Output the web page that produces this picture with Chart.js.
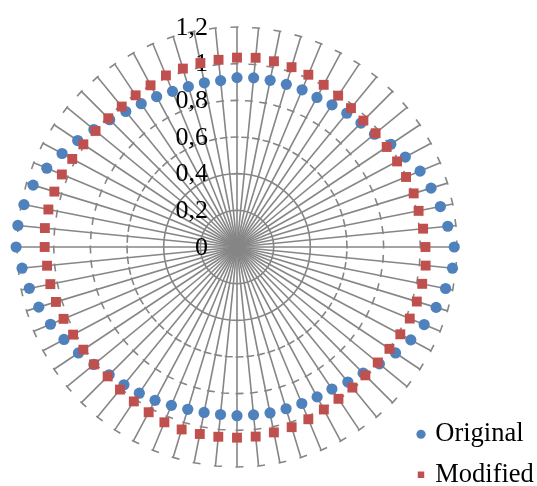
<!DOCTYPE html>
<html>
<head>
<meta charset="utf-8">
<script src="https://cdn.jsdelivr.net/npm/chart.js@4.4.0/dist/chart.umd.min.js"></script>
<style>
  html, body { margin: 0; padding: 0; background: #ffffff; }
  canvas { display: block; }
</style>
</head>
<body>
<canvas id="chart" width="537" height="486"></canvas>
<script>
// 64 directions around the circle, starting at the top and going clockwise
const CATEGORIES = [
  '1','2','3','4','5','6','7','8','9','10','11','12','13','14','15','16',
  '17','18','19','20','21','22','23','24','25','26','27','28','29','30','31','32',
  '33','34','35','36','37','38','39','40','41','42','43','44','45','46','47','48',
  '49','50','51','52','53','54','55','56','57','58','59','60','61','62','63','64'
];

const ORIGINAL = [
  0.924, 0.927, 0.927, 0.927, 0.928, 0.925, 0.933, 0.944,
  0.956, 0.970, 1.009, 1.041, 1.081, 1.106, 1.131, 1.155,
  1.185, 1.181, 1.160, 1.135, 1.105, 1.075, 1.040, 1.005,
  0.973, 0.953, 0.932, 0.927, 0.924, 0.922, 0.923, 0.920,
  0.920, 0.918, 0.920, 0.925, 0.935, 0.948, 0.959, 0.972,
  0.986, 1.010, 1.040, 1.070, 1.101, 1.130, 1.155, 1.178,
  1.205, 1.201, 1.185, 1.162, 1.123, 1.082, 1.045, 1.010,
  0.982, 0.956, 0.940, 0.930, 0.919, 0.914, 0.913, 0.912
];

const MODIFIED = [
  1.033, 1.037, 1.033, 1.025, 1.017, 1.003, 0.993, 0.980,
  0.975, 0.978, 0.982, 0.990, 0.998, 1.007, 1.010, 1.020,
  1.028, 1.034, 1.030, 1.025, 1.020, 1.010, 1.000, 0.993,
  0.990, 0.992, 0.996, 1.005, 1.017, 1.027, 1.031, 1.039,
  1.040, 1.040, 1.040, 1.040, 1.035, 1.022, 1.013, 1.006,
  0.998, 1.009, 1.008, 1.014, 1.024, 1.032, 1.038, 1.041,
  1.049, 1.053, 1.049, 1.041, 1.034, 1.019, 1.008, 0.998,
  0.993, 0.991, 0.995, 1.000, 1.013, 1.017, 1.023, 1.026
];

const TICK_LABELS = ['0', '0,2', '0,4', '0,6', '0,8', '1', '1,2'];

const GRID_GREY = '#868686';
const BLUE = '#4F81BD';
const RED = '#C0504D';
const SERIF = '"Liberation Serif", "Times New Roman", serif';

// short dash on each ring, sitting just before every spoke (counter-clockwise side)
const DASH_BEFORE = 6.5;
const DASH_AFTER = 1.5;

function ringEdge(c) {
  const r = c.scale.getDistanceFromCenterForValue(c.tick.value);
  return 2 * r * Math.sin(Math.PI / CATEGORIES.length);
}
function ringDash(c) {
  const edge = ringEdge(c);
  const d = DASH_BEFORE + DASH_AFTER;
  return edge > d + 0.5 ? [d, edge - d] : [];
}
function ringDashOffset(c) {
  return ringEdge(c) > DASH_BEFORE + DASH_AFTER + 0.5 ? DASH_BEFORE : 0;
}

// value labels to the left of the vertical spoke, drawn under the markers
const axisLabels = {
  id: 'axisLabels',
  beforeDatasetsDraw(chart) {
    const s = chart.scales.r;
    const ctx = chart.ctx;
    ctx.save();
    ctx.font = '26px ' + SERIF;
    ctx.fillStyle = '#000000';
    ctx.textAlign = 'right';
    ctx.textBaseline = 'middle';
    s.ticks.forEach((t) => {
      const y = s.yCenter - s.getDistanceFromCenterForValue(t.value);
      ctx.fillText(t.label, s.xCenter - 29, y + 1);
    });
    ctx.restore();
  }
};

// legend box in the lower right corner
const legendPlacement = {
  id: 'legendPlacement',
  afterLayout(chart) {
    const lg = chart.legend;
    lg.left = 406;
    lg.right = 560;
    lg.top = 407;
    lg.bottom = 600;
  }
};

new Chart(document.getElementById('chart'), {
  type: 'radar',
  data: {
    labels: CATEGORIES,
    datasets: [
      {
        label: 'Original',
        data: ORIGINAL,
        order: 1,
        showLine: false,
        fill: false,
        borderWidth: 0,
        backgroundColor: BLUE,
        borderColor: BLUE,
        pointStyle: 'circle',
        pointRadius: 5.6,
        pointBorderWidth: 0,
        pointBackgroundColor: BLUE,
        pointBorderColor: BLUE
      },
      {
        label: 'Modified',
        data: MODIFIED,
        order: 0,
        showLine: false,
        fill: false,
        borderWidth: 0,
        backgroundColor: RED,
        borderColor: RED,
        pointStyle: 'rect',
        pointRadius: 7,
        pointBorderWidth: 0,
        pointBackgroundColor: RED,
        pointBorderColor: RED
      }
    ]
  },
  options: {
    responsive: false,
    animation: false,
    devicePixelRatio: 1,
    layout: { padding: { left: 17, right: 80, top: 27, bottom: 19 } },
    scales: {
      r: {
        min: 0,
        max: 1.2,
        ticks: {
          stepSize: 0.2,
          display: false,
          callback: (v, i) => TICK_LABELS[i]
        },
        pointLabels: { display: false },
        angleLines: { display: true, color: GRID_GREY, lineWidth: 1.6 },
        grid: { circular: false, color: GRID_GREY, lineWidth: 1.6 },
        border: { dash: ringDash, dashOffset: ringDashOffset }
      }
    },
    plugins: {
      tooltip: { enabled: false },
      title: { display: false },
      legend: {
        display: true,
        position: 'chartArea',
        align: 'start',
        labels: {
          usePointStyle: true,
          boxWidth: 2,
          boxHeight: 6.5,
          padding: 14,
          color: '#000000',
          font: { family: SERIF, size: 26.5 },
          sort: (a, b) => a.datasetIndex - b.datasetIndex
        }
      }
    }
  },
  plugins: [axisLabels, legendPlacement]
});
</script>
</body>
</html>
